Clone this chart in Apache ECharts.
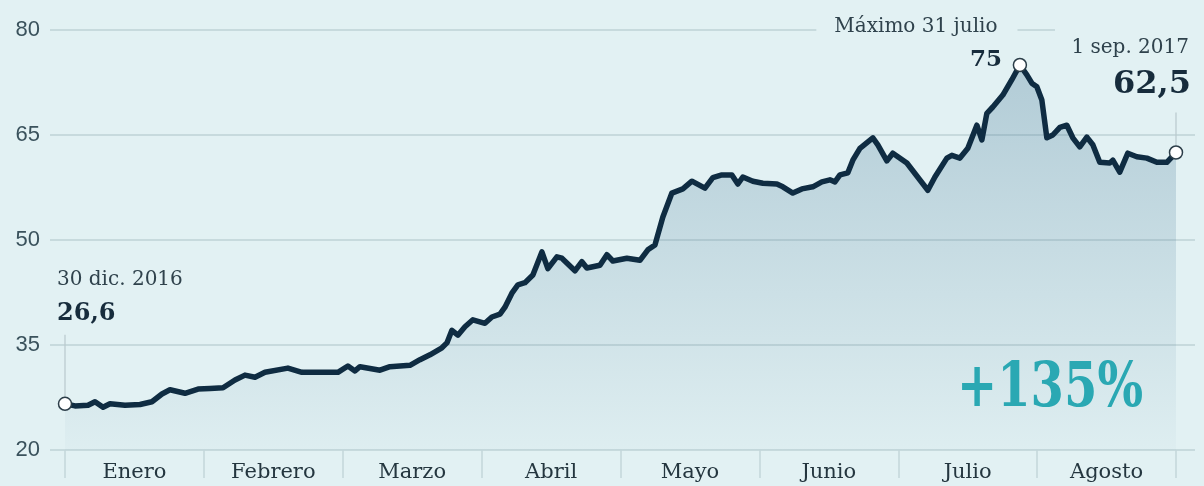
<!DOCTYPE html>
<html>
<head>
<meta charset="utf-8">
<script src="https://cdn.jsdelivr.net/npm/echarts@6/dist/echarts.min.js"></script>
<style>
  html, body { margin: 0; padding: 0; background: #e2f1f3; }
  #chart { width: 1204px; height: 486px; }
</style>
</head>
<body>
<div id="chart"></div>
<script>
// Meses del eje X
const meses = ['Enero', 'Febrero', 'Marzo', 'Abril', 'Mayo', 'Junio', 'Julio', 'Agosto'];
// Marcas del eje Y
const marcasY = [20, 35, 50, 65, 80];
// Posición temporal (meses transcurridos desde el 30 dic. 2016)
const posicion = [
  0.000, 0.072, 0.166, 0.216, 0.274, 0.324, 0.432, 0.540, 0.626, 0.698,
  0.756, 0.864, 0.958, 1.044, 1.138, 1.224, 1.296, 1.368, 1.440, 1.605,
  1.706, 1.836, 1.965, 2.037, 2.088, 2.124, 2.268, 2.340, 2.484, 2.556,
  2.628, 2.714, 2.750, 2.786, 2.829, 2.880, 2.937, 3.024, 3.074, 3.132,
  3.168, 3.218, 3.261, 3.312, 3.369, 3.434, 3.477, 3.542, 3.578, 3.672,
  3.722, 3.758, 3.852, 3.902, 3.945, 4.046, 4.140, 4.197, 4.248, 4.305,
  4.370, 4.449, 4.514, 4.608, 4.665, 4.730, 4.802, 4.845, 4.881, 4.953,
  5.025, 5.126, 5.169, 5.241, 5.306, 5.385, 5.450, 5.508, 5.544, 5.580,
  5.637, 5.673, 5.724, 5.817, 5.853, 5.918, 5.961, 6.062, 6.213, 6.264,
  6.350, 6.386, 6.444, 6.501, 6.566, 6.602, 6.638, 6.681, 6.753, 6.818,
  6.876, 6.926, 6.962, 6.998, 7.034, 7.070, 7.113, 7.164, 7.214, 7.257,
  7.307, 7.358, 7.401, 7.451, 7.523, 7.545, 7.595, 7.653, 7.718, 7.790,
  7.862, 7.934, 8.000
];
// Cotización
const cotizacion = [
  26.6, 26.3, 26.4, 26.9, 26.1, 26.6, 26.4, 26.5, 26.9, 28.0,
  28.6, 28.1, 28.7, 28.8, 28.9, 30.0, 30.7, 30.4, 31.1, 31.7,
  31.1, 31.1, 31.1, 32.0, 31.3, 31.9, 31.4, 31.9, 32.1, 32.9,
  33.6, 34.6, 35.3, 37.1, 36.4, 37.6, 38.6, 38.1, 39.0, 39.4,
  40.4, 42.4, 43.6, 43.9, 45.0, 48.3, 45.9, 47.6, 47.4, 45.6,
  46.9, 46.0, 46.4, 47.9, 47.0, 47.4, 47.1, 48.6, 49.3, 53.3,
  56.7, 57.3, 58.4, 57.4, 58.9, 59.3, 59.3, 58.0, 59.0, 58.4,
  58.1, 58.0, 57.6, 56.7, 57.3, 57.6, 58.3, 58.6, 58.3, 59.3,
  59.6, 61.4, 63.1, 64.6, 63.6, 61.3, 62.4, 61.0, 57.1, 59.0,
  61.7, 62.1, 61.7, 63.1, 66.4, 64.3, 68.1, 69.0, 70.7, 72.9,
  75.0, 73.6, 72.4, 71.9, 70.0, 64.6, 65.0, 66.1, 66.4, 64.6,
  63.3, 64.7, 63.6, 61.1, 61.0, 61.4, 59.7, 62.4, 61.9, 61.7,
  61.1, 61.1, 62.5
];
// Textos
const textoInicio = ['30 dic. 2016', '26,6'];
const textoMaximo = ['Máximo 31 julio', '75'];
const textoFinal = ['1 sep. 2017', '62,5'];
const textoVariacion = '+135%';

const BG = '#e2f1f3';
const serif = 'DejaVu Serif';

const serie = posicion.map((p, i) => [p, cotizacion[i]]);
let iMax = 0;
cotizacion.forEach((v, i) => { if (v > cotizacion[iMax]) iMax = i; });
const iFin = cotizacion.length - 1;
const puntos = [serie[0], serie[iMax], serie[iFin]];

const chart = echarts.init(document.getElementById('chart'));
chart.setOption({
  backgroundColor: BG,
  animation: false,
  grid: [
    { left: 50, right: 9, top: 30, bottom: 36 },
    { left: 65, right: 28, top: 30, bottom: 36 }
  ],
  xAxis: [
    { gridIndex: 0, type: 'value', min: 0, max: 1, show: false },
    { gridIndex: 1, type: 'value', min: 0, max: meses.length, show: false },
    {
      gridIndex: 1, type: 'category', data: meses, boundaryGap: true, position: 'bottom',
      axisLine: { show: false },
      axisTick: { show: true, interval: 0, length: 28, lineStyle: { color: '#c4d6da', width: 1.5 } },
      axisLabel: { interval: 0, margin: 12, fontFamily: serif, fontSize: 21, color: '#24363f' },
      splitLine: { show: false }
    }
  ],
  yAxis: [
    {
      gridIndex: 0, type: 'value', min: marcasY[0], max: marcasY[marcasY.length - 1],
      interval: marcasY[1] - marcasY[0],
      axisLine: { show: false }, axisTick: { show: false },
      splitLine: { show: true, lineStyle: { color: '#c7dadd', width: 2 } },
      axisLabel: { fontFamily: 'Liberation Sans', fontSize: 22, color: '#3a525c', margin: 10 }
    },
    {
      gridIndex: 1, type: 'value', min: marcasY[0], max: marcasY[marcasY.length - 1],
      interval: marcasY[1] - marcasY[0], show: false, splitLine: { show: false }
    }
  ],
  series: [
    {
      type: 'line', xAxisIndex: 1, yAxisIndex: 1, data: serie,
      showSymbol: false, symbol: 'none', smooth: false,
      lineStyle: { color: '#0f2c42', width: 5.5, join: 'round', cap: 'round' },
      areaStyle: {
        color: new echarts.graphic.LinearGradient(0, 0, 0, 1, [
          { offset: 0, color: 'rgba(70,120,150,0.44)' },
          { offset: 1, color: 'rgba(70,120,150,0.04)' }
        ])
      },
      z: 3
    },
    {
      type: 'scatter', xAxisIndex: 1, yAxisIndex: 1, data: puntos,
      symbol: 'circle', symbolSize: 13,
      itemStyle: { color: '#ffffff', borderColor: '#2b3d48', borderWidth: 1.5, opacity: 1 },
      z: 5
    }
  ]
});

function px(pt) { return chart.convertToPixel({ gridIndex: 1 }, pt); }
const a0 = px(puntos[0]);
const aM = px(puntos[1]);
const aF = px(puntos[2]);

chart.setOption({
  graphic: [
    // conector inicio
    { type: 'line', z: 4, shape: { x1: a0[0], y1: a0[1] - 69, x2: a0[0], y2: a0[1] - 7 },
      style: { stroke: '#b9c9cd', lineWidth: 1.2 } },
    { type: 'text', z: 6, x: a0[0] - 8, y: a0[1] - 124,
      style: { text: textoInicio[0], font: '20px "DejaVu Serif"', fill: '#2f424c', textVerticalAlign: 'middle' } },
    { type: 'text', z: 6, x: a0[0] - 8, y: a0[1] - 90,
      style: { text: textoInicio[1], font: 'bold 24px "DejaVu Serif"', fill: '#172c3c', textVerticalAlign: 'middle' } },
    // máscara de la línea de 80 bajo "Máximo 31 julio"
    { type: 'text', z: 6, x: aM[0] - 103, y: 27,
      style: { text: textoMaximo[0], font: '20px "DejaVu Serif"', fill: '#2f424c',
        textAlign: 'center', textVerticalAlign: 'middle',
        backgroundColor: BG, padding: [3, 20, 3, 18] } },
    { type: 'text', z: 6, x: aM[0] - 18, y: aM[1] - 5,
      style: { text: textoMaximo[1], font: 'bold 23px "DejaVu Serif"', fill: '#172c3c',
        textAlign: 'right', textVerticalAlign: 'middle' } },
    // máscara a la derecha
    { type: 'rect', z: 2, shape: { x: aF[0] - 121, y: 24, width: 200, height: 12 }, style: { fill: BG } },
    { type: 'line', z: 4, shape: { x1: aF[0], y1: aF[1] - 40, x2: aF[0], y2: aF[1] - 7 },
      style: { stroke: '#b9c9cd', lineWidth: 1.2 } },
    { type: 'text', z: 6, x: aF[0] + 13, y: aF[1] - 105,
      style: { text: textoFinal[0], font: '20px "DejaVu Serif"', fill: '#2f424c',
        textAlign: 'right', textVerticalAlign: 'middle' } },
    { type: 'text', z: 6, x: aF[0] + 15, y: aF[1] - 68,
      style: { text: textoFinal[1], font: 'bold 32px "DejaVu Serif"', fill: '#172c3c',
        textAlign: 'right', textVerticalAlign: 'middle' } },
    // variación
    { type: 'text', z: 6, x: 1143, y: 390, scaleY: 1.3, originX: 0, originY: 0,
      style: { text: textoVariacion, font: 'bold 48px "DejaVu Serif"', fill: '#2aa8b3',
        textAlign: 'right', textVerticalAlign: 'middle' } }
  ]
});
</script>
</body>
</html>
